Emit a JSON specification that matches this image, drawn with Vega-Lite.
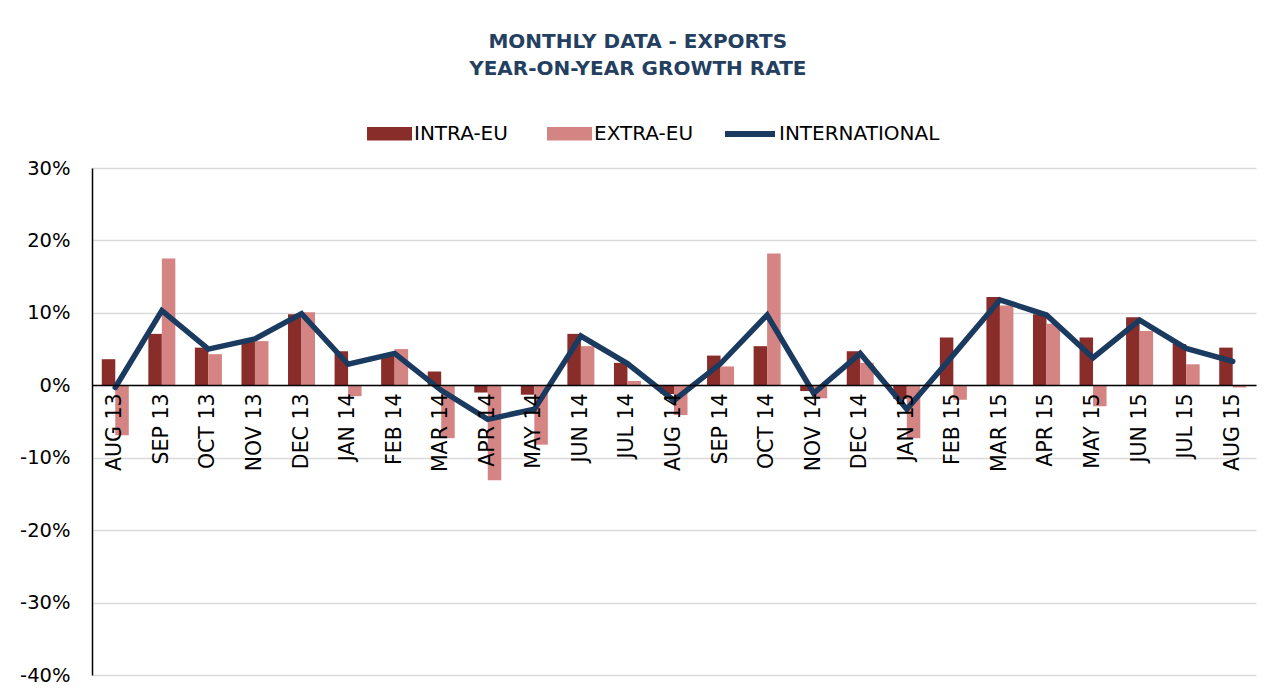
{
  "$schema": "https://vega.github.io/schema/vega-lite/v6.json",
  "width": 1164,
  "height": 507,
  "autosize": "none",
  "padding": {"left": 92, "top": 168, "right": 22, "bottom": 24},
  "background": "white",
  "config": {
    "view": {"stroke": null},
    "font": "DejaVu Sans"
  },
  "title": {
    "text": ["MONTHLY DATA - EXPORTS", "YEAR-ON-YEAR GROWTH RATE"],
    "font": "DejaVu Sans",
    "fontSize": 20,
    "fontWeight": "bold",
    "color": "#243F60",
    "anchor": "middle",
    "frame": "bounds",
    "lineHeight": 27,
    "offset": 27
  },
  "data": {
    "values": [
      {"month": "AUG 13", "intra": 0.036, "extra": -0.069, "intl": -0.003},
      {"month": "SEP 13", "intra": 0.071, "extra": 0.175, "intl": 0.103},
      {"month": "OCT 13", "intra": 0.052, "extra": 0.043, "intl": 0.050},
      {"month": "NOV 13", "intra": 0.060, "extra": 0.061, "intl": 0.064},
      {"month": "DEC 13", "intra": 0.098, "extra": 0.101, "intl": 0.099},
      {"month": "JAN 14", "intra": 0.047, "extra": -0.015, "intl": 0.029},
      {"month": "FEB 14", "intra": 0.041, "extra": 0.050, "intl": 0.044},
      {"month": "MAR 14", "intra": 0.019, "extra": -0.073, "intl": -0.007},
      {"month": "APR 14", "intra": -0.010, "extra": -0.131, "intl": -0.047},
      {"month": "MAY 14", "intra": -0.013, "extra": -0.082, "intl": -0.033},
      {"month": "JUN 14", "intra": 0.071, "extra": 0.054, "intl": 0.068},
      {"month": "JUL 14", "intra": 0.031, "extra": 0.006, "intl": 0.030},
      {"month": "AUG 14", "intra": -0.012, "extra": -0.041, "intl": -0.021},
      {"month": "SEP 14", "intra": 0.041, "extra": 0.026, "intl": 0.030},
      {"month": "OCT 14", "intra": 0.054, "extra": 0.182, "intl": 0.097},
      {"month": "NOV 14", "intra": -0.008, "extra": -0.018, "intl": -0.011},
      {"month": "DEC 14", "intra": 0.047, "extra": 0.031, "intl": 0.044},
      {"month": "JAN 15", "intra": -0.019, "extra": -0.073, "intl": -0.033},
      {"month": "FEB 15", "intra": 0.066, "extra": -0.020, "intl": 0.042},
      {"month": "MAR 15", "intra": 0.122, "extra": 0.110, "intl": 0.118},
      {"month": "APR 15", "intra": 0.098, "extra": 0.085, "intl": 0.097},
      {"month": "MAY 15", "intra": 0.066, "extra": -0.029, "intl": 0.038},
      {"month": "JUN 15", "intra": 0.094, "extra": 0.075, "intl": 0.090},
      {"month": "JUL 15", "intra": 0.057, "extra": 0.029, "intl": 0.051},
      {"month": "AUG 15", "intra": 0.052, "extra": -0.003, "intl": 0.033}
    ]
  },
  "encoding": {
    "x": {
      "field": "month",
      "type": "nominal",
      "sort": null,
      "scale": {"paddingInner": 0.42, "paddingOuter": 0.21},
      "axis": {
        "title": null,
        "orient": "bottom",
        "offset": -290,
        "labelAngle": -90,
        "labelAlign": "right",
        "labelBaseline": "middle",
        "labelPadding": 8,
        "labelFont": "DejaVu Sans",
        "labelFontSize": 20.5,
        "labelColor": "#000000",
        "ticks": false,
        "domainColor": "#000000",
        "domainWidth": 1.5,
        "grid": false,
        "zindex": 1
      }
    }
  },
  "layer": [
    {
      "mark": {"type": "bar"},
      "transform": [
        {"fold": ["intra", "extra"], "as": ["series", "value"]}
      ],
      "encoding": {
        "y": {
          "field": "value",
          "type": "quantitative",
          "scale": {"domain": [-0.4, 0.3], "nice": false, "zero": false},
          "axis": {
            "title": null,
            "values": [-0.4, -0.3, -0.2, -0.1, 0, 0.1, 0.2, 0.3],
            "format": ".0%",
            "labelExpr": "replace(datum.label, '\u2212', '-')",
            "labelFont": "DejaVu Sans",
            "labelFontSize": 19.5,
            "labelColor": "#000000",
            "labelPadding": 22,
            "ticks": false,
            "domainColor": "#000000",
            "domainWidth": 1.5,
            "gridColor": "#D9D9D9",
            "gridWidth": 1.5
          }
        },
        "xOffset": {
          "field": "series",
          "type": "nominal",
          "sort": ["intra", "extra"],
          "scale": {"paddingInner": 0, "paddingOuter": 0}
        },
        "fill": {
          "field": "series",
          "type": "nominal",
          "scale": {"domain": ["intra", "extra"], "range": ["#892D2B", "#D48483"]},
          "legend": {
            "orient": "none",
            "legendX": 275,
            "legendY": -57,
            "direction": "horizontal",
            "title": null,
            "labelExpr": "datum.value == 'intra' ? 'INTRA-EU' : 'EXTRA-EU'",
            "symbolType": "M-1,-0.3H1V0.3H-1Z",
            "symbolSize": 2025,
            "symbolStrokeWidth": 0,
            "labelFont": "DejaVu Sans",
            "labelFontSize": 20,
            "labelColor": "#000000",
            "labelOffset": 2,
            "columnPadding": 39
          }
        }
      }
    },
    {
      "mark": {"type": "line", "strokeWidth": 5.5, "strokeJoin": "miter", "strokeCap": "round"},
      "transform": [
        {"fold": ["intl"], "as": ["series", "value"]}
      ],
      "encoding": {
        "y": {"field": "value", "type": "quantitative"},
        "stroke": {
          "field": "series",
          "type": "nominal",
          "scale": {"domain": ["intl"], "range": ["#1B3A5F"]},
          "legend": {
            "orient": "none",
            "legendX": 630,
            "legendY": -62,
            "title": null,
            "labelExpr": "'INTERNATIONAL'",
            "labelLimit": 400,
            "symbolType": "stroke",
            "symbolSize": 2500,
            "symbolStrokeWidth": 6,
            "labelFont": "DejaVu Sans",
            "labelFontSize": 20,
            "labelColor": "#000000",
            "labelOffset": 1
          }
        }
      }
    }
  ]
}
